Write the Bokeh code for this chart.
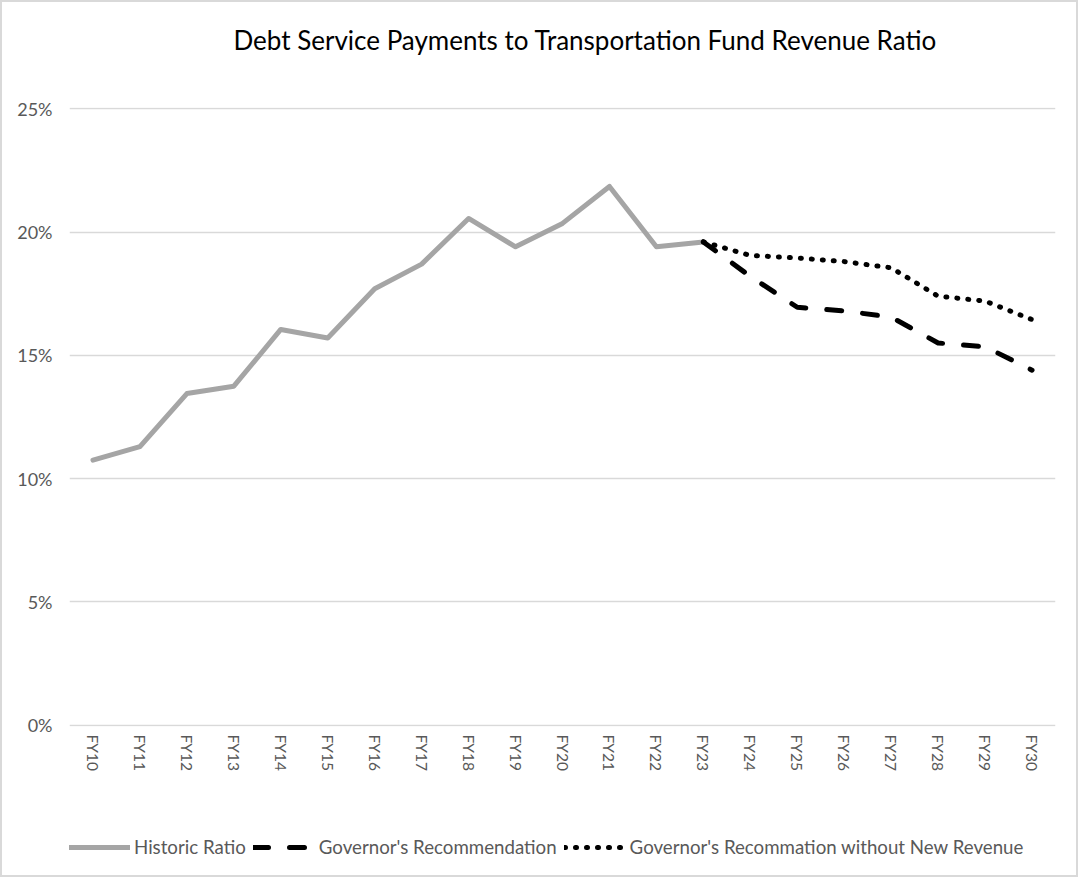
import math
from bokeh.plotting import figure
from bokeh.layouts import column
from bokeh.models import (ColumnDataSource, FixedTicker, PrintfTickFormatter, Legend,
                          LegendItem, Range1d)
from bokeh.embed import file_html
from bokeh.resources import INLINE

# ---- data ----
years = ["FY10", "FY11", "FY12", "FY13", "FY14", "FY15", "FY16", "FY17", "FY18", "FY19",
         "FY20", "FY21", "FY22", "FY23", "FY24", "FY25", "FY26", "FY27", "FY28", "FY29", "FY30"]
hist_years = years[:14]
hist_ratio = [10.75, 11.3, 13.45, 13.75, 16.05, 15.7, 17.7, 18.7, 20.55, 19.4, 20.35, 21.85, 19.4, 19.6]
proj_years = years[13:]
gov_rec = [19.6, 18.2, 16.95, 16.8, 16.55, 15.5, 15.35, 14.4]
gov_no_rev = [19.6, 19.05, 18.95, 18.8, 18.55, 17.4, 17.2, 16.45]
y_ticks = [0, 5, 10, 15, 20, 25]

series_names = ["Historic Ratio", "Governor's Recommendation",
                "Governor's Recommation without New Revenue"]

FONT = "Lato"
GREY_TXT = "#595959"

W = 1074
H_MAIN, H_LEG = 800, 73

styles = [
    dict(line_color="#A5A5A5", line_width=5, line_join="round", line_cap="round"),
    dict(line_color="black", line_width=5, line_dash="15 21", line_cap="round", line_join="round"),
    dict(line_color="black", line_width=5, line_dash="1 10", line_cap="round", line_join="round"),
]

p = figure(x_range=years, y_range=Range1d(-0.05, 25.05), width=W, height=H_MAIN,
           output_backend="svg", toolbar_location=None,
           min_border_left=67, min_border_right=21, min_border_top=105, min_border_bottom=76)
p.x_range.range_padding = 0

p.title.text = "Debt Service Payments to Transportation Fund Revenue Ratio"
p.title.text_font = FONT
p.title.text_font_size = "26px"
p.title.text_font_style = "normal"
p.title.text_color = "#000000"
p.title.align = "left"
p.title.offset = 164
p.title.padding = dict(left=0, right=0, top=0, bottom=47)

p.outline_line_color = None
p.background_fill_color = "white"
p.border_fill_color = "white"

# grid
p.xgrid.grid_line_color = None
p.ygrid.grid_line_color = "#D9D9D9"
p.ygrid.grid_line_width = 1.5
p.yaxis.ticker = FixedTicker(ticks=y_ticks)
p.yaxis.formatter = PrintfTickFormatter(format="%d%%")

for ax in (p.xaxis, p.yaxis):
    ax.axis_line_color = None
    ax.major_tick_line_color = None
    ax.minor_tick_line_color = None
    ax.major_tick_out = 0
    ax.major_tick_in = 0
    ax.minor_tick_out = 0
    ax.minor_tick_in = 0
    ax.major_label_text_font = FONT
    ax.major_label_text_color = GREY_TXT

p.yaxis.major_label_text_font_size = "18px"
p.yaxis.major_label_standoff = 17
p.xaxis.major_label_text_font_size = "15.5px"
p.xaxis.major_label_orientation = -math.pi / 2
p.xaxis.major_label_standoff = 8

hist_src = ColumnDataSource(dict(x=hist_years, y=hist_ratio))
proj_src = ColumnDataSource(dict(x=proj_years, rec=gov_rec, norev=gov_no_rev))

p.line("x", "y", source=hist_src, **styles[0])
p.line("x", "norev", source=proj_src, **styles[2])
p.line("x", "rec", source=proj_src, **styles[1])

# ---- legend strip (separate figure so the legend is not clipped) ----
q = figure(width=W, height=H_LEG, x_range=years, y_range=(0, 25),
           output_backend="svg", toolbar_location=None,
           x_axis_location=None, y_axis_location=None,
           min_border=0, min_border_left=0, min_border_right=0,
           min_border_top=0, min_border_bottom=0)
q.outline_line_color = None
q.xgrid.visible = False
q.ygrid.visible = False
q.background_fill_color = "white"
q.border_fill_color = "white"

leg_renderers = [
    q.line("x", "y", source=hist_src, visible=False, **styles[0]),
    q.line("x", "rec", source=proj_src, visible=False, **styles[1]),
    q.line("x", "norev", source=proj_src, visible=False, **styles[2]),
]
legend = Legend(items=[LegendItem(label=name, renderers=[r])
                       for name, r in zip(series_names, leg_renderers)],
                orientation="horizontal", location=(-1, 17))
legend.label_text_font = FONT
legend.label_text_font_size = "18.7px"
legend.label_text_color = GREY_TXT
legend.glyph_width = 62
legend.glyph_height = 20
legend.label_standoff = 4
legend.spacing = 7
legend.padding = 0
legend.margin = 0
legend.border_line_color = None
legend.background_fill_alpha = 0
legend.inactive_fill_alpha = 0
q.add_layout(legend, "center")

layout = column(p, q, spacing=0)
layout.styles = {"border": "2px solid #D9D9D9", "width": "fit-content"}

open("out.html", "w").write(file_html(layout, INLINE))
